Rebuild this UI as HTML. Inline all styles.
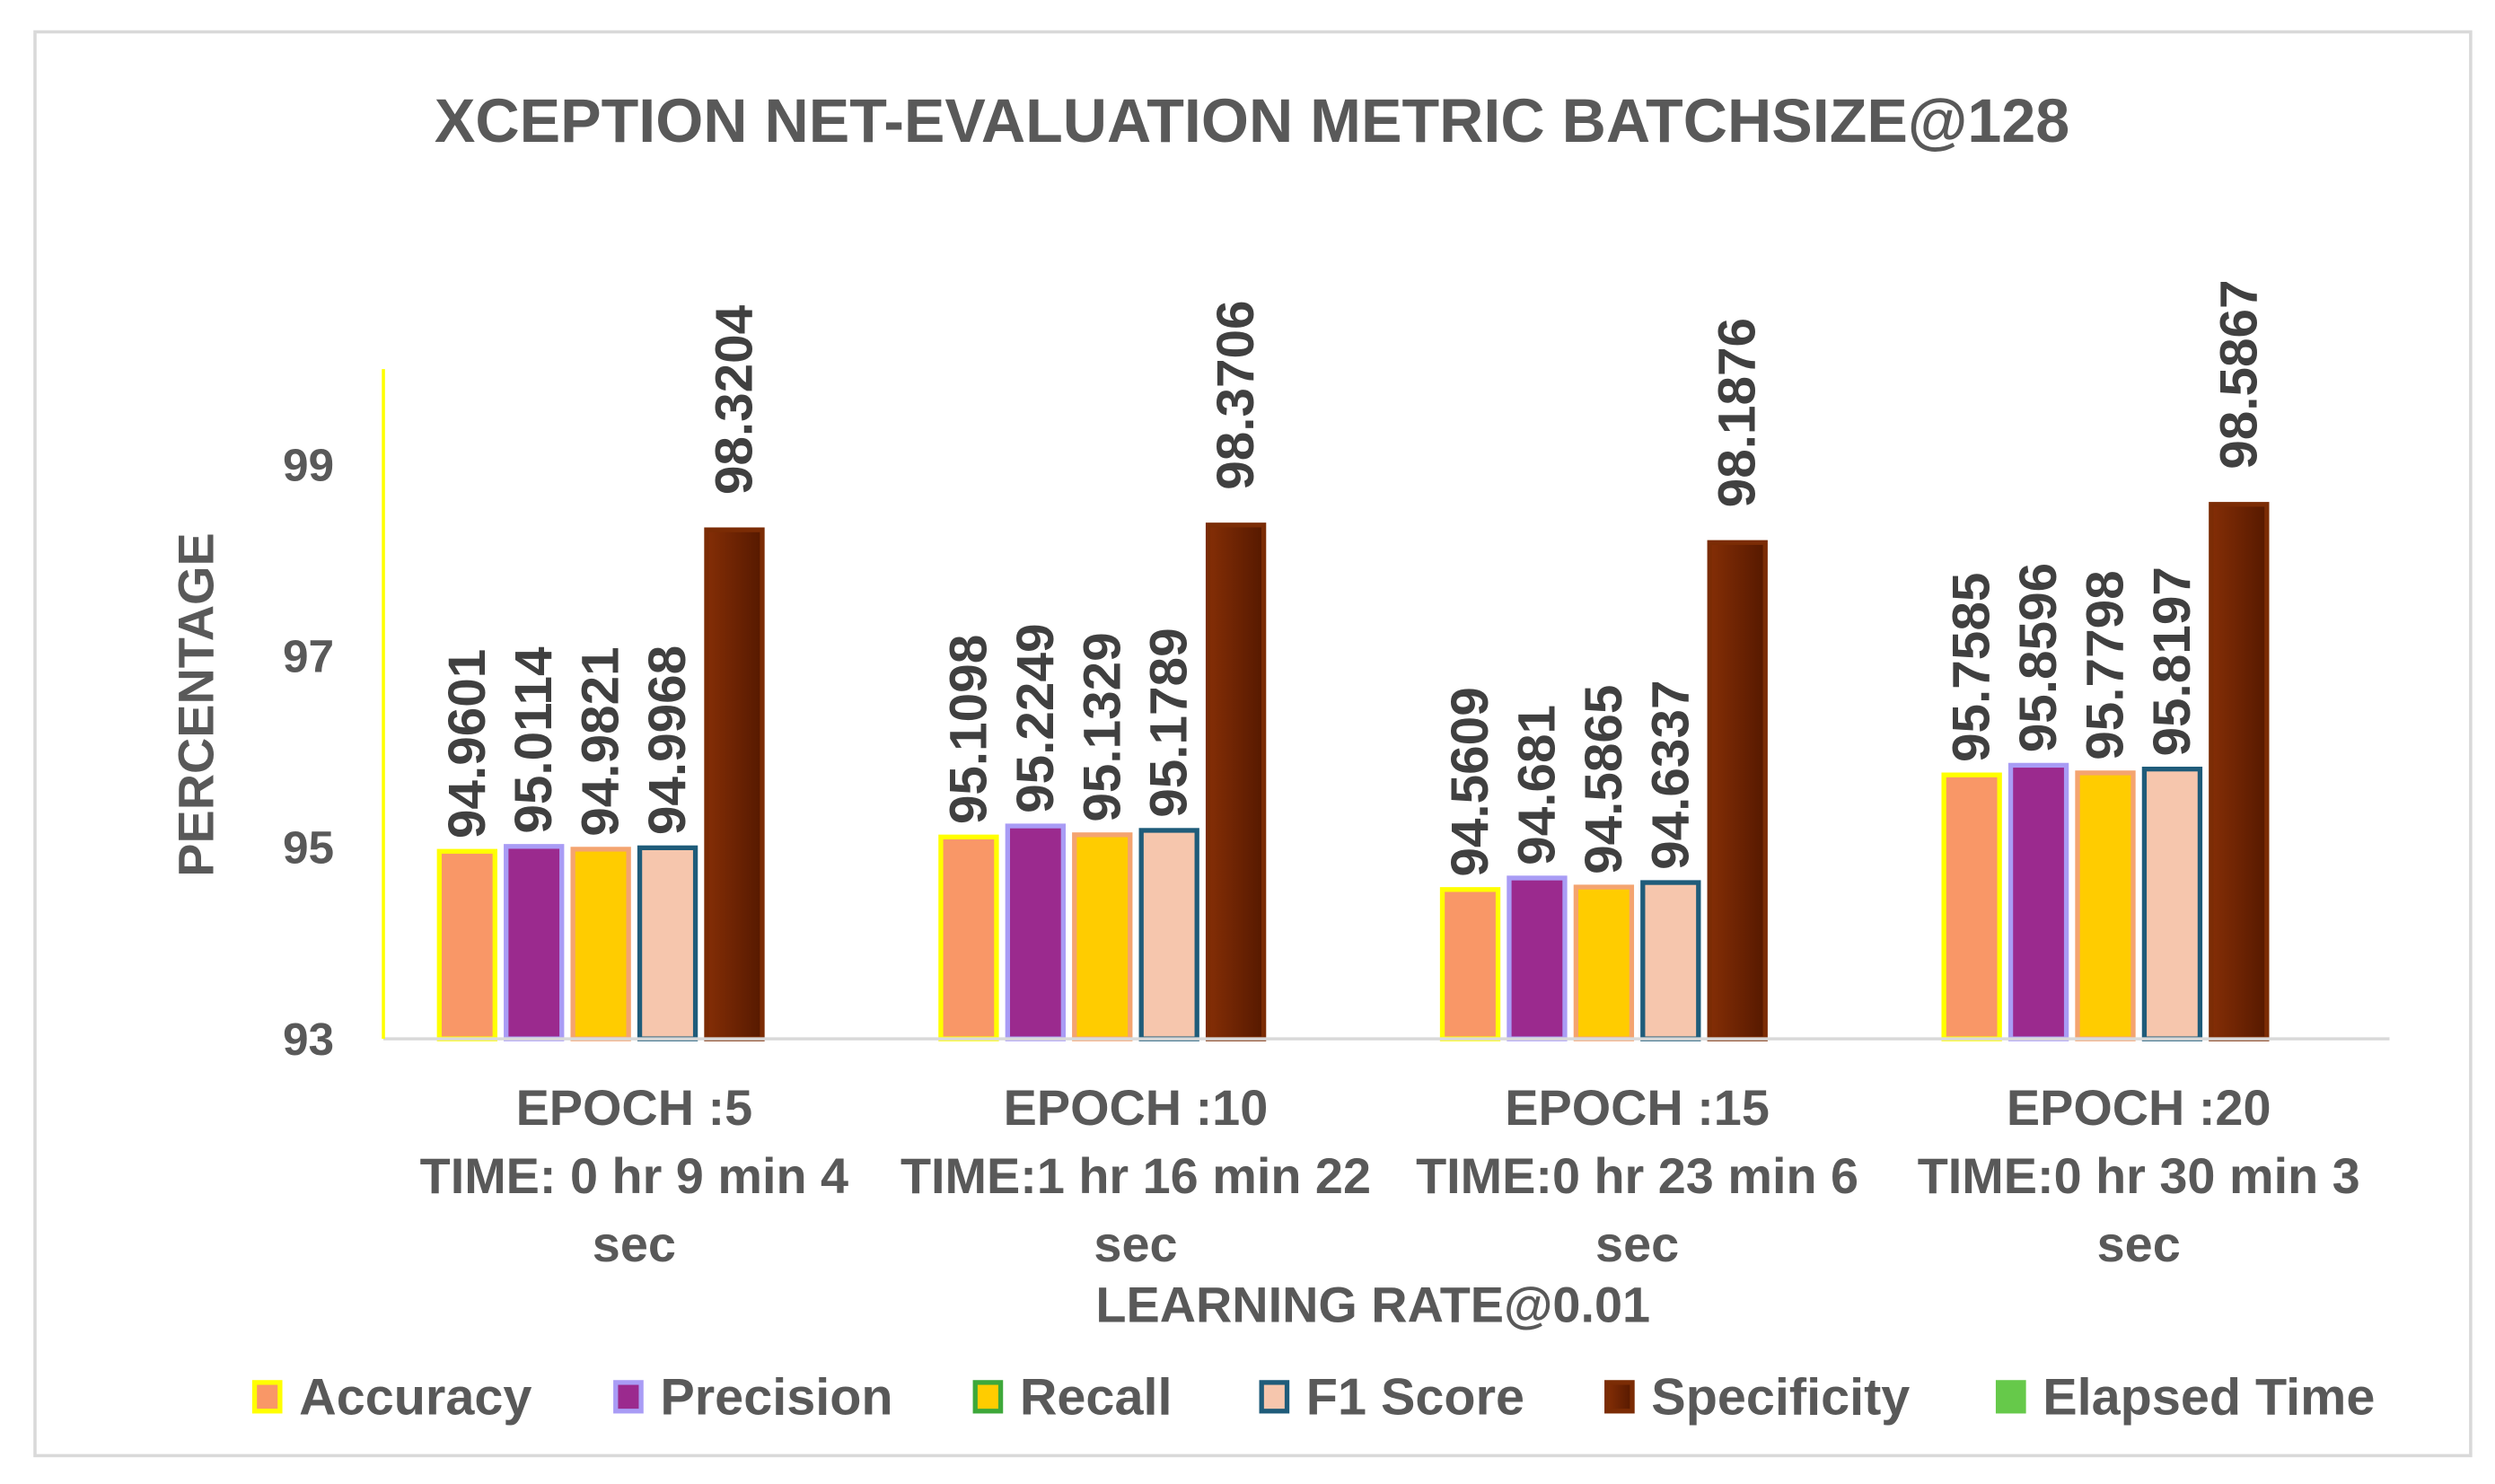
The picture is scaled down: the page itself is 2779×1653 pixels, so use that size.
<!DOCTYPE html>
<html><head><meta charset="utf-8"><style>
html,body{margin:0;padding:0;background:#fff;}
svg{display:block;font-family:"Liberation Sans",Arial,sans-serif;font-weight:bold;}
</style></head><body>
<svg id="chart" width="2779" height="1653" viewBox="0 0 1568.3 932.8" xmlns="http://www.w3.org/2000/svg">
<defs>
<linearGradient id="specGrad" x1="0" x2="1" y1="0" y2="0"><stop offset="0" stop-color="#842E06"/><stop offset="1" stop-color="#561900"/></linearGradient>
</defs>
<rect x="22" y="20" width="1531" height="895" fill="#fff" stroke="#d9d9d9" stroke-width="2"/>
<text x="787" y="89" text-anchor="middle" font-size="38.5" fill="#595959">XCEPTION NET-EVALUATION METRIC BATCHSIZE@128</text>
<text transform="translate(134,443) rotate(-90)" text-anchor="middle" font-size="31.5" fill="#595959">PERCENTAGE</text>
<text x="863" y="831" text-anchor="middle" font-size="31.5" fill="#595959">LEARNING RATE@0.01</text>
<g id="yticks"></g>
<g id="bars"></g>
<g id="xlabels"></g>
<line x1="241" y1="653" x2="1502" y2="653" stroke="#d9d9d9" stroke-width="2"/>
<line x1="241" y1="232" x2="241" y2="653" stroke="#ffff00" stroke-width="2"/>
<g id="legend"></g>
</svg>
<script>
const categories = [["EPOCH :5","TIME: 0 hr 9 min 4","sec"],["EPOCH :10","TIME:1 hr 16 min 22","sec"],["EPOCH :15","TIME:0 hr 23 min 6","sec"],["EPOCH :20","TIME:0 hr 30 min 3","sec"]];
const seriesNames = ["Accuracy","Precision","Recall","F1 Score","Specificity","Elapsed Time"];
const accuracy = [94.9601, 95.1098, 94.5609, 95.7585];
const precision = [95.0114, 95.2249, 94.681, 95.8596];
const recall = [94.9821, 95.1329, 94.5865, 95.7798];
const f1score = [94.9968, 95.1789, 94.6337, 95.8197];
const specificity = [98.3204, 98.3706, 98.1876, 98.5867];
const elapsedTime = [null, null, null, null];
const yTicks = [93, 95, 97, 99];
const fills = ["#F99767","#9B2A8E","#FFCC00","#F6C6AD","url(#specGrad)","#66C94A"];
const strokes = ["#FFFF00","#A99CF5","#F4A470","#1F5C7A","#7B2C05","#66C94A"];
const legendStrokes = ["#FFFF00","#A99CF5","#3DA83A","#1F5C7A","#7B2C05","#66C94A"];
const series = [accuracy, precision, recall, f1score, specificity, elapsedTime];

const NS="http://www.w3.org/2000/svg";
const yMin=93, yMax=100, plotTop=232, plotBottom=653, plotLeft=241, plotRight=1502;
const y = v => plotBottom - (v - yMin) / (yMax - yMin) * (plotBottom - plotTop);
const groupW = (plotRight - plotLeft) / categories.length;
const pitch = 42, barW = 35;
const x = (ci, si) => plotLeft + ci*groupW + groupW/2 - (series.length*pitch)/2 + si*pitch + (pitch-barW)/2;
function mk(tag, attrs, parent){const e=document.createElementNS(NS,tag);for(const k in attrs)e.setAttribute(k,attrs[k]);parent.appendChild(e);return e;}

const yt=document.getElementById('yticks');
yTicks.forEach(t=>{
  const e=mk('text',{x:210,y:y(t)+10,'text-anchor':'end','font-size':'29',fill:'#595959'},yt);
  
  
  e.textContent=t;
});

const bg=document.getElementById('bars');
series.forEach((s,si)=>{
  s.forEach((v,ci)=>{
    if(v==null) return;
    const bx=x(ci,si), by=y(v);
    const r=mk('rect',{x:bx,y:by,width:barW,height:plotBottom-by,fill:fills[si],stroke:strokes[si],'stroke-width':3},bg);
    
    
    const lx=bx+barW/2+11, ly=by-(si===4?22:8);
    const t=mk('text',{x:0,y:0,transform:`translate(${lx},${ly}) rotate(-90)`,'font-size':'33','fill':'#404040'},bg);
    
    
    t.textContent=v;
  });
});

const xl=document.getElementById('xlabels');
categories.forEach((lines,ci)=>{
  const cx=plotLeft+ci*groupW+groupW/2;
  lines.forEach((ln,li)=>{
    const t=mk('text',{x:cx,y:707+li*43,'text-anchor':'middle','font-size':'31.5',fill:'#595959'},xl);
    
    
    t.textContent=ln;
  });
});

const lg=document.getElementById('legend');
const lx=[160,387,613,793,1010,1256];
seriesNames.forEach((n,i)=>{
  const g=mk('g',{},lg);
  
  
  mk('rect',{x:lx[i],y:869,width:16,height:18,fill:fills[i],stroke:legendStrokes[i],'stroke-width':3},g);
  const t=mk('text',{x:lx[i]+28,y:889,'font-size':'32.5',fill:'#595959'},g);
  t.textContent=n;
});
</script>
</body></html>
